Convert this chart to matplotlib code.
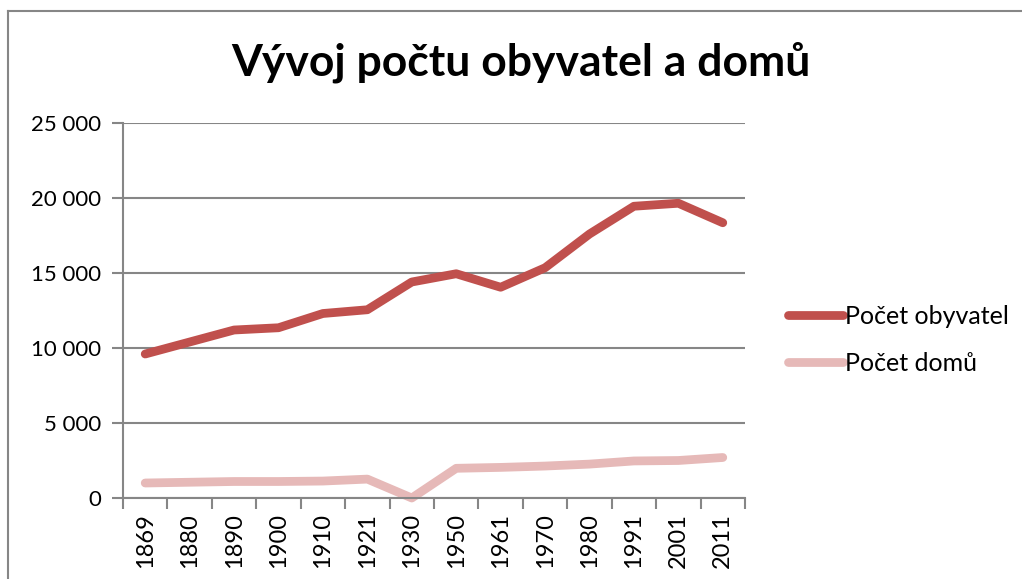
import matplotlib.pyplot as plt
from matplotlib.lines import Line2D

plt.rcParams['font.family'] = ['Lato', 'DejaVu Sans']

# data
years = ["1869", "1880", "1890", "1900", "1910", "1921", "1930",
         "1950", "1961", "1970", "1980", "1991", "2001", "2011"]
obyvatel = [9600, 10400, 11200, 11350, 12300, 12550, 14400,
            14950, 14050, 15350, 17600, 19450, 19650, 18350]
domu = [1000, 1050, 1100, 1100, 1130, 1260, 0,
        1980, 2040, 2130, 2260, 2470, 2500, 2700]

RED = '#C0504D'
PINK = '#E6B9B8'
GREY = '#868686'

fig = plt.figure(figsize=(10.22, 5.79), dpi=100)
ax = fig.add_axes([123 / 1022, 1 - 498 / 579, 622 / 1022, 375 / 579])

x = list(range(len(years)))
ax.plot(x, obyvatel, color=RED, lw=6.3, solid_capstyle='round',
        solid_joinstyle='round', clip_on=False)
ax.plot(x, domu, color=PINK, lw=6.3, solid_capstyle='round',
        solid_joinstyle='round', clip_on=False)

ax.set_xlim(-0.5, len(years) - 0.5)
ax.set_ylim(0, 25000)
ax.set_yticks(range(0, 25001, 5000))
ax.set_yticklabels([f"{v:,}".replace(",", " ") for v in range(0, 25001, 5000)],
                   fontsize=16)
ax.yaxis.grid(True, color=GREY, lw=1.5)
ax.set_axisbelow(True)

# category labels at centres, tick marks on the boundaries
ax.set_xticks(x)
ax.set_xticklabels(years, rotation=90, fontsize=17)
ax.tick_params(axis='x', length=0, pad=11)
ax.set_xticks([i - 0.5 for i in range(len(years) + 1)], minor=True)
ax.tick_params(axis='x', which='minor', length=8, width=1.5, color=GREY)
ax.tick_params(axis='y', length=8, width=1.5, color=GREY, pad=8)

for side in ['top', 'right']:
    ax.spines[side].set_visible(False)
for side in ['left', 'bottom']:
    ax.spines[side].set_color(GREY)
    ax.spines[side].set_linewidth(1.5)

fig.text(521 / 1022, 1 - 62 / 579, "Vývoj počtu obyvatel a domů", ha='center',
         va='center', fontsize=32, fontweight='bold')

handles = [Line2D([], [], color=RED, lw=6.3, solid_capstyle='round'),
           Line2D([], [], color=PINK, lw=6.3, solid_capstyle='round')]
fig.legend(handles, ['Počet obyvatel', 'Počet domů'], loc='center left',
           bbox_to_anchor=(765 / 1022, 1 - 340 / 579), frameon=False,
           fontsize=18, handlelength=2.2, handletextpad=0.1, labelspacing=0.95)

# chart area border (left and top edges only are visible)
fig.add_artist(Line2D([8 / 1022, 8 / 1022], [0, 1 - 11 / 579],
                      transform=fig.transFigure, color=GREY, lw=1.5))
fig.add_artist(Line2D([8 / 1022, 1], [1 - 11 / 579, 1 - 11 / 579],
                      transform=fig.transFigure, color=GREY, lw=1.5))

fig.savefig('out.png', dpi=100, facecolor='white')
